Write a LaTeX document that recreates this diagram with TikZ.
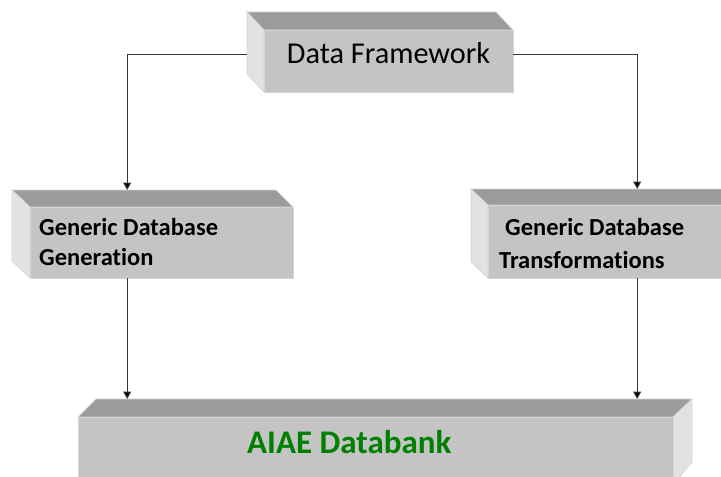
\documentclass[tikz,border=0pt]{standalone}
\usepackage{fontspec}
\setmainfont[Ligatures=CommonOff]{Carlito}
\usetikzlibrary{arrows.meta,calc}
\definecolor{frontc}{RGB}{196,196,196}
\definecolor{topc}{RGB}{155,155,155}
\definecolor{sidec}{RGB}{226,226,226}
\definecolor{edgec}{RGB}{212,212,212}
\definecolor{linec}{RGB}{55,55,55}
\definecolor{dgreen}{RGB}{0,128,0}
\begin{document}
\begin{tikzpicture}[x=1pt,y=-1pt,
  frontface/.style={fill=frontc,draw=edgec,line width=0.7pt},
  topface/.style={fill=topc,draw=edgec,line width=0.7pt},
  sideface/.style={fill=sidec,draw=edgec,line width=0.7pt},
  extent/.style={inner sep=0pt,anchor=north west},
  arr/.style={draw=linec,line width=1.1pt,-{Triangle[width=8pt,length=7.5pt,fill=black]}},
  lbl/.style={inner sep=0pt},
  bl/.style={inner sep=0pt,align=left,anchor=base west,font=\fontsize{24.5}{30}\selectfont\bfseries}
]
\useasboundingbox (0,0) rectangle (721,477);
\begin{scope}
\clip (0,0) rectangle (721,477);
% --- Data Framework box
\filldraw[topface] (247,12) -- (496,12) -- (513,30) -- (264,30) -- cycle;
\filldraw[sideface] (247,12) -- (264,30) -- (264,92) -- (247,74) -- cycle;
\filldraw[frontface] (264,30) rectangle (513,92);
\node[extent,minimum width=266pt,minimum height=80pt] (df) at (247,12) {};
\node[lbl,anchor=base,font=\fontsize{30.3}{33}\selectfont] (dft) at (388.5,63) {Data Framework};
% --- Generic Database Generation box
\filldraw[topface] (12,190) -- (276,190) -- (293,207) -- (30,207) -- cycle;
\filldraw[sideface] (12,190) -- (30,207) -- (30,278) -- (12,261) -- cycle;
\filldraw[frontface] (30,207) rectangle (293,278);
\node[extent,minimum width=281pt,minimum height=88pt] (gdg) at (12,190) {};
\node[bl] (gdgt) at (39,265) {Generic Database\\Generation};
% --- Generic Database Transformations box
\filldraw[topface] (471,189) -- (730,189) -- (747,205) -- (488,205) -- cycle;
\filldraw[sideface] (471,189) -- (488,205) -- (488,278) -- (471,262) -- cycle;
\filldraw[frontface] (488,205) rectangle (740,278);
\node[extent,minimum width=254pt,minimum height=89pt] (gdt) at (471,189) {};
\node[bl,font=\fontsize{24.5}{33}\selectfont\bfseries] (gdtt) at (499,268) {\hspace{6pt}Generic Database\\Transformations};
% --- AIAE Databank box
\filldraw[topface] (96,399) -- (692,399) -- (673,417) -- (78,417) -- cycle;
\filldraw[sideface] (692,399) -- (673,417) -- (673,485) -- (692,462) -- cycle;
\filldraw[frontface] (78,417) rectangle (673,490);
\node[extent,minimum width=614pt,minimum height=81pt] (bank) at (78,399) {};
\node[lbl,anchor=base west,font=\fontsize{33}{36}\selectfont\bfseries,text=dgreen] (bankt) at (247,453) {AIAE Databank};
\end{scope}
% --- connectors
\draw[arr] ([yshift=-2pt]df.west) -| ([xshift=-25.5pt]gdg.north);
\draw[arr] ([yshift=-2pt]df.east) -| ([xshift=39pt]gdt.north);
\draw[arr] ([xshift=-25.5pt]gdg.south) -- ([xshift=-25.5pt]gdg.south |- bank.north);
\draw[arr] ([xshift=39pt]gdt.south) -- ([xshift=39pt]gdt.south |- bank.north);
\end{tikzpicture}
\end{document}
